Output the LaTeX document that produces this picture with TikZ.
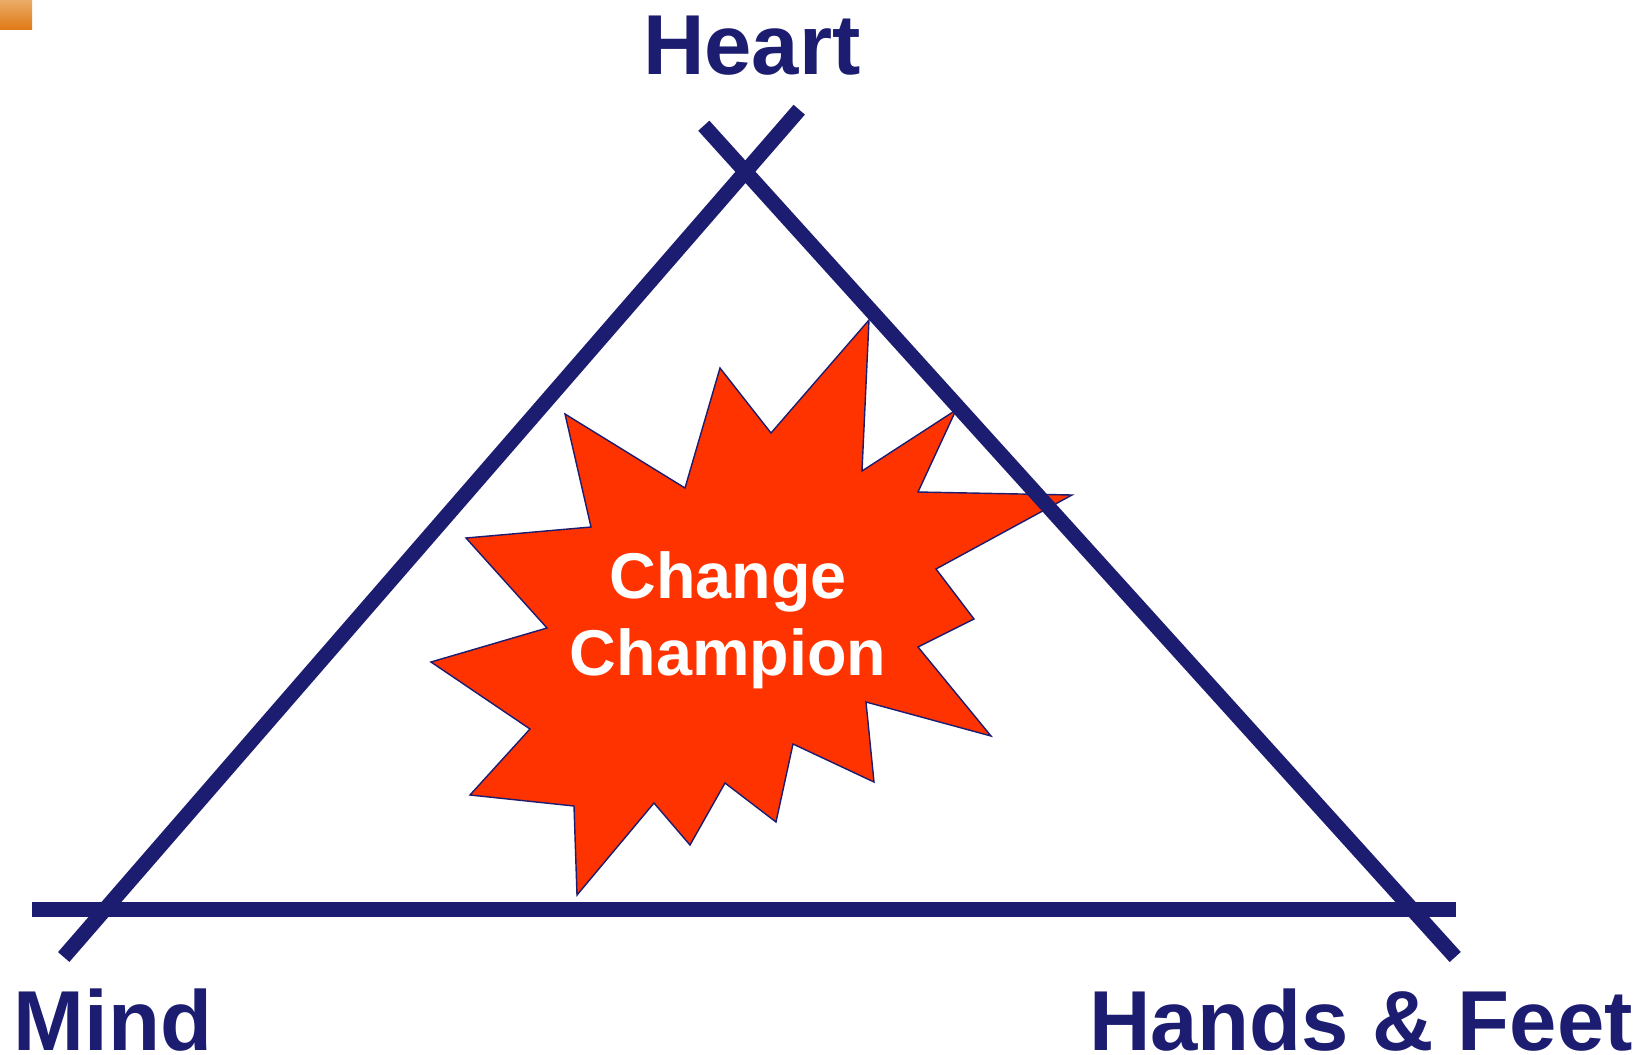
\documentclass[tikz,border=0pt]{standalone}
\usepackage{fontspec}
\setmainfont{Liberation Sans}
\definecolor{navy}{RGB}{28,28,112}
\definecolor{burst}{RGB}{255,51,0}
\begin{document}
\begin{tikzpicture}[x=0.01cm,y=-0.01cm,
  bar/.style={navy,line width=0.15cm},
  corner/.style={navy,font=\fontsize{24.2}{28}\selectfont\bfseries,inner sep=0pt},
  burstlabel/.style={white,font=\fontsize{18.4}{22}\selectfont\bfseries,inner sep=0pt,anchor=base}]
  \useasboundingbox (0,0) rectangle (1651,1054);
  \shade[top color={rgb,255:red,234;green,172;blue,104},bottom color={rgb,255:red,224;green,122;blue,22}]
  (0,0) rectangle (32,29);

  \filldraw[fill=burst,draw=navy,line width=0.4pt]
  (869,320) -- (862,471) -- (956,410) -- (918,492) -- (1072,495) --
  (936,569) -- (974,619) -- (918,647) -- (991,736) -- (866,702) --
  (874,782) -- (793,744) -- (776,822) -- (725,783) -- (690,845) --
  (654,803) -- (577,895) -- (574,806) -- (470,795) -- (530,729) --
  (431,662) -- (547,628) -- (466,538) -- (591,527) -- (565,414) --
  (685,488) -- (720,368) -- (771,433) -- cycle;

  \draw[bar] (63.7,957) -- (799.2,109.7);
  \draw[bar] (703.8,125.7) -- (1455.2,957);
  \draw[bar] (31.7,909.5) -- (1456,909.5);

  \node[corner,anchor=base] (heart) at (752,74) {Heart};
  \node[corner,anchor=base west] (mind) at (13,1050) {Mind};
  \node[corner,anchor=base] (hands) at (1361,1050) {Hands \& Feet};

  \node[burstlabel] (change) at (728,598) {Change};
  \node[burstlabel] (champion) at (728,675) {Champion};
\end{tikzpicture}
\end{document}
